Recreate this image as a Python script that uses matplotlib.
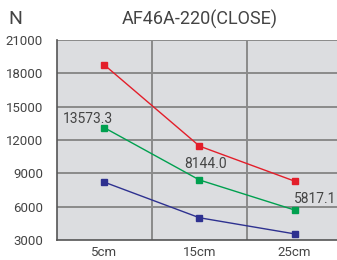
import matplotlib
matplotlib.use("Agg")
import matplotlib.pyplot as plt

# chart data
categories = ["5cm", "15cm", "25cm"]
red_vals = [18750, 11450, 8300]
green_vals = [13100, 8400, 5700]
blue_vals = [8200, 5000, 3550]
green_labels = ["13573.3", "8144.0", "5817.1"]
y_ticks = [3000, 6000, 9000, 12000, 15000, 18000, 21000]

plt.rcParams['font.family'] = ['Roboto', 'DejaVu Sans']

fig = plt.figure(figsize=(3.37, 2.60), dpi=100)
ax = fig.add_axes([0.169, 0.077, 0.831, 0.769])
ax.set_facecolor('#dcdde0')

x = [i + 0.5 for i in range(len(categories))]
ax.plot(x, red_vals, color='#e31e2a', lw=1.0, marker='s', ms=5, zorder=3)
ax.plot(x, green_vals, color='#00a04f', lw=1.0, marker='s', ms=5, zorder=3)
ax.plot(x, blue_vals, color='#2e3190', lw=1.0, marker='s', ms=5, zorder=3)

# value labels for the green series
ax.text(x[0] - 0.17, green_vals[0] + 825, green_labels[0], ha='center', va='center',
        fontsize=10, color='#444444')
ax.text(x[1] + 0.06, green_vals[1] + 1400, green_labels[1], ha='center', va='center',
        fontsize=10, color='#444444')
ax.text(2.94, green_vals[2] + 970, green_labels[2], ha='right', va='center',
        fontsize=10, color='#444444')

ax.set_xlim(0, 2.947)
ax.set_ylim(3000, 21000)
ax.set_yticks(y_ticks)
ax.set_yticklabels([str(v) for v in y_ticks], fontsize=9.5, color='#444444')
ax.set_xticks(x)
ax.set_xticklabels(categories, fontsize=9.5, color='#444444')
ax.tick_params(axis='y', length=0, pad=10)
ax.tick_params(axis='x', length=0, pad=4)

for yv in y_ticks[1:]:
    ax.axhline(yv, color='#8a8a8a', lw=1.4, zorder=1)
for xv in [1, 2]:
    ax.axvline(xv, color='#8a8a8a', lw=1.4, zorder=1)

for side in ['top', 'right']:
    ax.spines[side].set_visible(False)
ax.spines['left'].set_color('#555555')
ax.spines['bottom'].set_color('#555555')
ax.spines['left'].set_linewidth(1.2)
ax.spines['bottom'].set_linewidth(1.2)

fig.text(8 / 337, 1 - 19 / 260, "N", fontsize=14, color='#444444', va='center', ha='left')
fig.text(200 / 337, 1 - 19 / 260, "AF46A-220(CLOSE)", fontsize=13, color='#444444', va='center', ha='center')

fig.savefig("out.png", dpi=100)
